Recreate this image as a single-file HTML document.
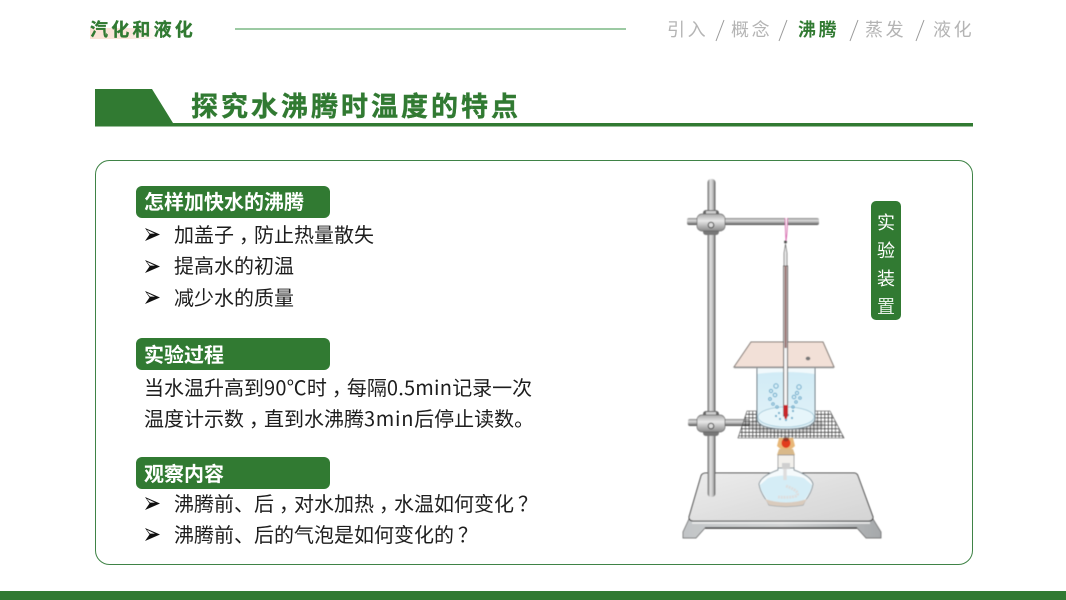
<!DOCTYPE html>
<html lang="zh">
<head>
<meta charset="utf-8">
<style>
html,body{margin:0;padding:0;background:#fff}
#p{position:relative;width:1066px;height:600px;overflow:hidden;background:#fff;font-family:"Liberation Sans","Noto Sans CJK SC",sans-serif}
.t{position:absolute;white-space:nowrap;line-height:1;font-family:"Noto Sans CJK SC",sans-serif}
.b{font-size:20px;color:#1d1d1d}
.h{font-size:20px;color:#fff;font-weight:700;left:144px}
.tab{position:absolute;left:136px;width:194px;height:32px;background:#317a32;border-radius:6px}
.n{font-size:18px;letter-spacing:2.6px;color:#b4b4b4;font-weight:400}
.c{display:inline-block;width:20px;transform:translateX(5px)}
.q{display:inline-block;width:20px;transform:translateX(4px)}
.l{letter-spacing:.22px}
.m{letter-spacing:.7px}
</style>
</head>
<body>
<div id="p">
<div style="position:absolute;left:90px;top:28px;width:72px;height:11px;background:linear-gradient(90deg,#fbe3d6,#fbe6db 55%,#fff)"></div>
<div class="t" style="left:90px;top:20px;font-size:18px;font-weight:700;letter-spacing:3.2px;color:#317a32;-webkit-text-stroke:.3px #317a32">汽化和液化</div>
<div style="position:absolute;left:235px;top:28px;width:391px;height:2px;background:#9ccaa3"></div>
<div class="t n" style="left:667px;top:20px">引入</div>
<div class="t n" style="left:731px;top:20px">概念</div>
<div class="t n" style="left:798px;top:20px;color:#317a32;font-weight:700">沸腾</div>
<div class="t n" style="left:865px;top:20px">蒸发</div>
<div class="t n" style="left:933px;top:20px">液化</div>

<svg style="position:absolute;left:0;top:0" width="1066" height="600" viewBox="0 0 1066 600">
<defs>
<filter id="soft" x="-5%" y="-5%" width="110%" height="110%"><feGaussianBlur stdDeviation=".4"/></filter>
<linearGradient id="rod" x1="0" x2="1" y1="0" y2="0"><stop offset="0" stop-color="#666"/><stop offset=".35" stop-color="#e4e4e4"/><stop offset=".7" stop-color="#bbb"/><stop offset="1" stop-color="#555"/></linearGradient>
<linearGradient id="rodh" x1="0" x2="0" y1="0" y2="1"><stop offset="0" stop-color="#888"/><stop offset=".35" stop-color="#ddd"/><stop offset=".7" stop-color="#999"/><stop offset="1" stop-color="#444"/></linearGradient>
<linearGradient id="clamp" x1="0" x2="0" y1="0" y2="1"><stop offset="0" stop-color="#aaa"/><stop offset=".4" stop-color="#e8e8e8"/><stop offset="1" stop-color="#888"/></linearGradient>
<linearGradient id="plate" x1="0" x2="1" y1="0" y2="1"><stop offset="0" stop-color="#ececec"/><stop offset="1" stop-color="#d4d4d4"/></linearGradient>
<linearGradient id="face" x1="0" x2="1" y1="0" y2="0"><stop offset="0" stop-color="#c2c5c7"/><stop offset=".5" stop-color="#d0d2d3"/><stop offset="1" stop-color="#a5a8aa"/></linearGradient>
<linearGradient id="water" x1="0" x2="0" y1="0" y2="1"><stop offset="0" stop-color="#cfeaf5"/><stop offset="1" stop-color="#e3f3f9"/></linearGradient>
<pattern id="mesh" width="3.6" height="3.6" patternUnits="userSpaceOnUse"><path d="M0 0H3.600M0 0V3.600" stroke="#111" stroke-width="1.100" fill="none"/></pattern>
<g id="bul"><path d="M0 0L15 6.500 0 13 4.500 6.500Z" fill="#111"/><path d="M1.800 1.800L10 5.600 4.900 5.600Z" fill="#fff"/></g>
<g id="clampg">
<rect x="-8" y="-12" width="16" height="6" rx="3" fill="#666"/>
<rect x="-5" y="-11" width="10" height="3" fill="#ccc"/>
<rect x="-8" y="7" width="16" height="6" rx="3" fill="#777"/>
<rect x="-14" y="-8" width="28" height="17" rx="5" fill="url(#clamp)" stroke="#666" stroke-width=".7"/>
<circle cx="0" cy="3" r="2.800" fill="#ddd" stroke="#444"/>
</g>
</defs>

<path d="M95 89H152L173 123H973V126.500H95Z" fill="#317a32"/>
<rect x="95.500" y="160.500" width="877" height="404" rx="14" fill="#fff" stroke="#3f8346"/>
<rect x="0" y="591" width="1066" height="9" fill="#317a32"/>
<g stroke="#999" stroke-width="1" fill="none">
<path d="M724 20L716 41M787 20L779 41M858 20L850 41M924 20L916 41"/>
</g>

<use href="#bul" x="145" y="228"/>
<use href="#bul" x="145" y="260"/>
<use href="#bul" x="145" y="291"/>
<use href="#bul" x="145" y="497"/>
<use href="#bul" x="145" y="528"/>

<g filter="url(#soft)">
<!-- base -->
<path d="M689 519H873L881 532V538H866L857 528H705L696 538H683V532Z" fill="url(#face)" stroke="#555" stroke-width=".7"/>
<path d="M689 517L701 476Q702 473 706 473H854Q857 473 858 476L873 517Q873 521 869 521H693Q689 521 689 517Z" fill="url(#plate)" stroke="#333" stroke-width="1"/>
<path d="M705 528H857" stroke="#333" stroke-width="1.600"/>
<path d="M692 523H870" stroke="#eee" stroke-width="1.500"/>

<!-- rods -->
<rect x="707.500" y="179" width="8" height="318" rx="3.500" fill="url(#rod)"/>
<rect x="687" y="218" width="132" height="7" rx="2" fill="url(#rodh)"/>
<rect x="688" y="419" width="62" height="7" rx="2" fill="url(#rodh)"/>
<use href="#clampg" x="711" y="222"/>
<use href="#clampg" x="711" y="423"/>

<!-- mesh -->
<path d="M747 411H830L844 438H738Z" fill="url(#mesh)" stroke="#444" stroke-width=".6"/>
<ellipse cx="786" cy="425" rx="38" ry="9" fill="#333" opacity=".22"/>

<!-- beaker -->
<path d="M757 367H815V418Q815 429 786 429Q757 429 757 418Z" fill="url(#water)"/>
<path d="M757 367H815V374Q786 370 757 374Z" fill="#f1f9fc"/>
<ellipse cx="786" cy="417" rx="28" ry="10" fill="#e6f5fa" stroke="#9fc6d6" stroke-width=".8"/>
<path d="M757 367V418Q757 429 786 429Q815 429 815 418V367" fill="none" stroke="#66757e" stroke-width="1"/>
<g fill="none" stroke="#6caccb" stroke-width="1">
<circle cx="776" cy="386" r="2.200"/><circle cx="771" cy="391" r="1.600"/><circle cx="775" cy="395" r="1.800"/><circle cx="770" cy="399" r="1.400"/><circle cx="773" cy="404" r="1.300"/><circle cx="777" cy="407" r="1.300"/>
<circle cx="799" cy="387" r="2.200"/><circle cx="797" cy="393" r="1.600"/><circle cx="794" cy="397" r="1.800"/><circle cx="800" cy="398" r="1.300"/><circle cx="796" cy="402" r="1.300"/><circle cx="793" cy="407" r="1.300"/>
</g>
<g fill="#6caccb">
<circle cx="776" cy="416" r="1.100"/><circle cx="779" cy="413" r="1.100"/><circle cx="780" cy="419" r="1.100"/><circle cx="786" cy="420" r="1.100"/><circle cx="792" cy="418" r="1.100"/><circle cx="788" cy="415" r="1.100"/><circle cx="793" cy="411" r="1.100"/>
</g>

<!-- cardboard -->
<path d="M751 342H823L834 367H734Z" fill="#f2e0d7" stroke="#7f7670" stroke-width="1"/>
<path d="M734 367.500H834" stroke="#999" stroke-width="1.500"/>
<ellipse cx="808" cy="358.500" rx="2.300" ry="1.900" fill="#777"/>

<!-- thermometer -->
<path d="M785 218Q785.500 232 786 241Q787.500 232 787.500 218" stroke="#d86bb0" stroke-width=".9" fill="#fbeef6"/>
<circle cx="785.500" cy="242" r="1.500" fill="#555"/>
<path d="M784 253L785.500 244L787 253V266H784Z" fill="#e6e6e6" stroke="#666" stroke-width=".7"/>
<rect x="783.600" y="266" width="4" height="150" fill="#f4f4f4" stroke="#555" stroke-width=".9"/>
<rect x="784.500" y="266" width="2.200" height="82" fill="#9a7472"/>
<path d="M783.500 405H788V414L786.700 419H784.800L783.500 414Z" fill="#c8262a"/>

<!-- burner -->
<path d="M779 438H793L795 446Q786 455 777 446Z" fill="#e8b778"/>
<ellipse cx="786" cy="443" rx="4.500" ry="5" fill="#e23a1c"/>
<ellipse cx="786" cy="439" rx="3" ry="2.500" fill="#333" opacity=".4"/>
<path d="M779 449H793L795 455H777Z" fill="#d9b98a"/>
<path d="M778 455H794V468H778Z" fill="#f2f0ec" stroke="#888" stroke-width=".7"/>
<path d="M778 468H794L794 470Q811 476 813 484Q812 492 805 501L803 505Q786 508 769 505L767 501Q760 492 759 484Q761 476 778 470Z" fill="#f5fafc" stroke="#8a979e" stroke-width="1"/>
<path d="M768 478Q786 473 804 478L812 485Q811 492 804 500Q786 505 768 500Q761 492 760 485Z" fill="#d5edf6"/>
<path d="M765 499Q786 506 807 499L803 505Q786 508 769 505Z" fill="#d9cbbd"/>
<path d="M785 469V480" stroke="#dedede" stroke-width="3.500" fill="none"/>
<path d="M786 486Q802 492 796 496Q790 498 778 497" stroke="#dedede" stroke-width="3" stroke-dasharray="2 .8" fill="none"/>
<rect x="782" y="463" width="8" height="6" fill="#cfcfcf"/>
</g>

<rect x="871" y="201" width="30" height="119" rx="5" fill="#317a32"/>
</svg>

<div class="tab" style="top:186px"></div>
<div class="tab" style="top:338px"></div>
<div class="tab" style="top:457px"></div>
<div class="t h" style="top:191px">怎样加快水的沸腾</div>
<div class="t h" style="top:344px">实验过程</div>
<div class="t h" style="top:463px">观察内容</div>

<div class="t b" style="left:174px;top:224px">加盖子<span class="c">，</span>防止热量散失</div>
<div class="t b" style="left:174px;top:255px">提高水的初温</div>
<div class="t b" style="left:174px;top:287px">减少水的质量</div>
<div class="t b" style="left:144px;top:377px">当水温升高到<span class="l">90℃</span>时<span class="c">，</span>每隔<span class="l">0.5min</span>记录一次</div>
<div class="t b" style="left:144px;top:408px">温度计示数<span class="c">，</span>直到水沸腾<span class="m">3min</span>后停止读数。</div>
<div class="t b" style="left:174px;top:493px">沸腾前、后<span class="c">，</span>对水加热<span class="c">，</span>水温如何变化<span class="q">？</span></div>
<div class="t b" style="left:174px;top:524px">沸腾前、后的气泡是如何变化的<span class="q">？</span></div>

<div class="t" style="left:191px;top:91px;font-size:27px;font-weight:700;letter-spacing:3px;color:#317a32;-webkit-text-stroke:.4px #317a32">探究水沸腾时温度的特点</div>

<div class="t" style="left:877px;top:213px;font-size:18px;color:#fff">实</div>
<div class="t" style="left:877px;top:241px;font-size:18px;color:#fff">验</div>
<div class="t" style="left:877px;top:269px;font-size:18px;color:#fff">装</div>
<div class="t" style="left:877px;top:297px;font-size:18px;color:#e4efe4">置</div>
</div>
</body>
</html>
